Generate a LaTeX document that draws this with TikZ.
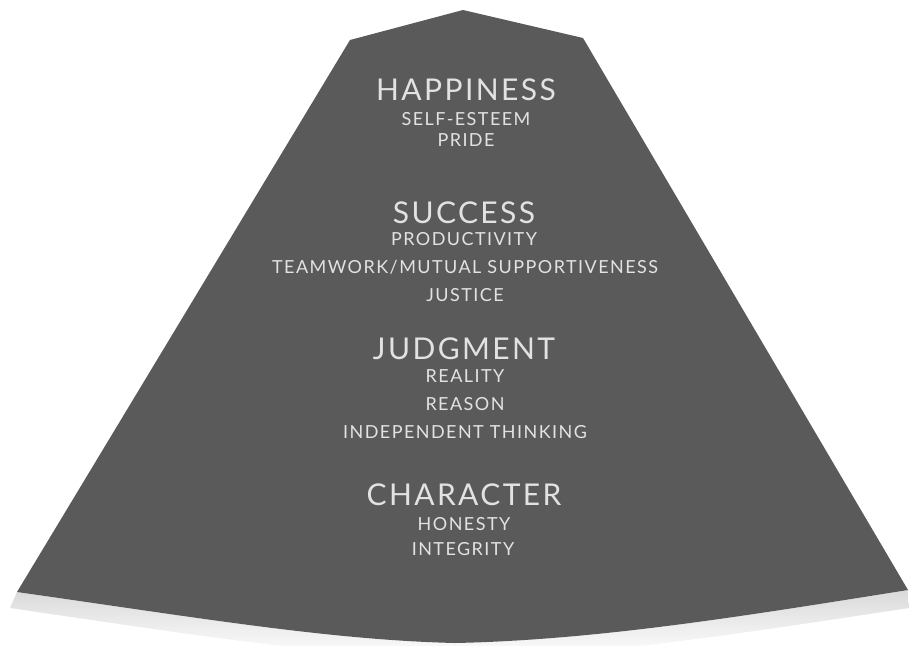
\documentclass[tikz,border=0pt]{standalone}
\usepackage{fontspec}
\setmainfont{Lato}
\newfontfamily\titlefont[LetterSpace=8]{Lato}
\newfontfamily\subfont[LetterSpace=8]{Lato}
\definecolor{pyrfill}{HTML}{5A5A5A}
\definecolor{pyrtext}{HTML}{E2E2E2}
\definecolor{shadowc}{HTML}{DADADA}
\begin{document}
\begin{tikzpicture}[x=1pt,y=1pt,
  titletxt/.style={anchor=base,text=pyrtext,inner sep=0pt,font=\titlefont\fontsize{30}{30}\selectfont},
  subtxt/.style={anchor=base,text=pyrtext,inner sep=0pt,font=\subfont\fontsize{18}{18}\selectfont}]
\useasboundingbox (0,0) rectangle (909,-645);
% shadow under the base
\shade[top color=shadowc,bottom color=white]
  (17,-592) .. controls (200,-618) and (330,-640) .. (455,-643)
  .. controls (600,-640) and (750,-615) .. (908,-590)
  -- (909,-608) .. controls (750,-632) and (600,-656) .. (455,-660)
  .. controls (330,-656) and (200,-636) .. (10,-608) -- cycle;
% pyramid body
\fill[pyrfill] (17,-592) -- (350,-40) -- (463,-10) -- (583,-38) -- (908,-590)
  .. controls (750,-615) and (600,-640) .. (455,-643)
  .. controls (330,-640) and (200,-618) .. (17,-592) -- cycle;
% texts
\node[titletxt] (happiness) at (466,-100) {HAPPINESS};
\node[subtxt] (selfesteem) at (466,-125) {SELF-ESTEEM};
\node[subtxt] (pride) at (466,-146) {PRIDE};
\node[titletxt] (success) at (464,-223) {SUCCESS};
\node[subtxt] (productivity) at (464,-245) {PRODUCTIVITY};
\node[subtxt] (teamwork) at (465,-273) {TEAMWORK/MUTUAL SUPPORTIVENESS};
\node[subtxt] (justice) at (465,-301) {JUSTICE};
\node[titletxt] (judgment) at (464,-359) {JUDGMENT};
\node[subtxt] (reality) at (465,-382) {REALITY};
\node[subtxt] (reason) at (465,-410) {REASON};
\node[subtxt] (independent) at (465,-438) {INDEPENDENT THINKING};
\node[titletxt] (character) at (464,-505) {CHARACTER};
\node[subtxt] (honesty) at (464,-530) {HONESTY};
\node[subtxt] (integrity) at (463,-555) {INTEGRITY};
\end{tikzpicture}
\end{document}
